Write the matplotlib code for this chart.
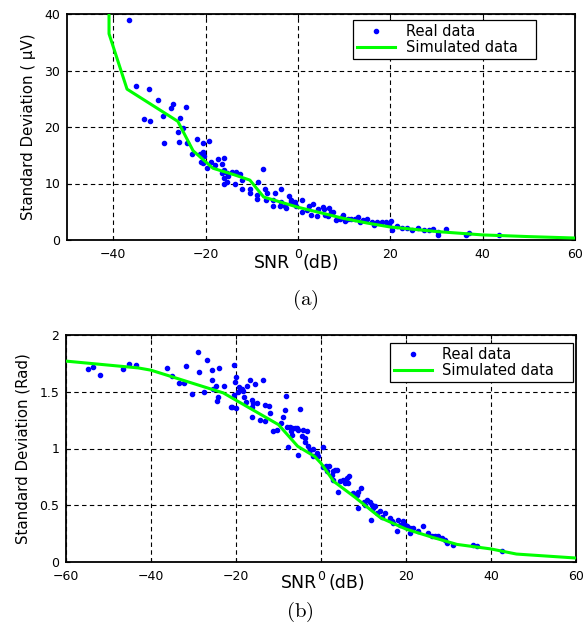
import matplotlib
matplotlib.use("Agg")
import matplotlib.pyplot as plt
import numpy as np

plt.rcParams['font.family'] = ['DejaVu Sans']

# ---------------- Panel (a) data ----------------
a_real_x = [-36.5, -35.1, -32.3, -30.2, -27.1, -27.5, -24.3, -33.4, -32.0, -29.2, -25.5, -24.8,
            -26.0, -28.9, -25.8, -24.1, -21.9, -19.3, -23.0, -21.2, -20.5, -20.6, -20.3, -20.9,
            -20.5, -19.6, -18.9, -18.0, -17.4, -15.9, -16.5, -16.1, -15.4, -16.5, -16.0, -15.2,
            -16.1, -15.4, -14.3, -13.3, -12.5, -12.2, -13.6, -12.0, -10.3, -10.4, -8.6, -7.6,
            -7.2, -6.8, -8.8, -8.9, -7.0, -5.0, -3.6, -5.3, -5.3, -3.9, -2.8, -1.9, -2.6, -1.4,
            -1.0, -3.6, -0.4,
            -1.4, -0.6, 0.9, 0.9, 2.0, 2.3, 3.3, 2.8, 4.1, 4.3, 5.4, 5.6, 5.9, 6.8, 7.1, 7.6,
            6.5, 8.3, 9.1, 9.5, 9.8, 10.2, 10.9, 11.6, 12.4, 13.1, 13.5, 14.2, 15.0, 16.0, 16.4,
            17.1, 17.9, 18.2, 19.0, 19.7, 20.1, 20.4, 21.5, 22.6, 23.7, 24.7, 26.0, 27.3, 28.4,
            29.2, 30.3, 30.3, 32.1, 36.5, 37.1, 43.6]
a_real_y = [38.9, 27.3, 26.7, 24.7, 24.1, 23.3, 23.6, 21.5, 21.1, 21.9, 21.6, 19.8,
            19.1, 17.2, 17.4, 17.1, 17.9, 17.6, 15.2, 15.3, 15.6, 17.1, 14.9, 13.8,
            13.6, 12.8, 13.8, 13.3, 14.3, 14.5, 13.5, 12.4, 11.9, 11.8, 10.9, 11.4,
            10.0, 10.3, 12.1, 12.0, 11.6, 10.6, 10.0, 9.0, 9.0, 8.4, 10.2, 12.6,
            9.0, 8.4, 8.0, 7.2, 7.1, 8.4, 9.0, 7.1, 6.1, 6.1, 6.0, 7.8, 5.6, 6.8,
            6.5, 6.8, 6.1,
            7.1, 6.8, 7.1, 5.0, 5.3, 6.1, 6.3, 4.4, 4.2, 5.4, 5.9, 5.4, 4.4, 5.6, 4.9, 5.0,
            4.2, 3.5, 3.8, 4.1, 4.4, 3.4, 3.7, 3.8, 3.8, 4.1, 3.2, 3.5, 3.7, 3.1, 2.7,
            3.2, 3.0, 3.2, 3.1, 2.8, 3.4, 1.8, 2.4, 2.1, 2.2, 1.8, 2.1, 1.8, 1.8,
            1.9, 0.8, 1.5, 1.9, 0.8, 1.3, 0.9]
a_sim_x = [-40.9, -40.9, -37.0, -26.0, -22.7, -18.4, -14.0, -10.4, -7.4, 0.0, 5.0, 10.0,
           15.0, 20.0, 30.0, 40.0, 50.0, 60.0]
a_sim_y = [42.0, 36.5, 26.7, 21.0, 15.8, 12.7, 11.6, 10.6, 7.6, 5.8, 4.8, 3.8,
           3.0, 2.3, 1.5, 0.9, 0.6, 0.35]

# ---------------- Panel (b) data ----------------
b_real_x = [-54.9, -53.6, -52.0, -46.5, -45.2, -43.6, -36.3, -35.0, -33.4, -32.2, -31.8, -30.4,
            -29.0, -28.7, -27.5, -26.9, -25.7, -25.7, -25.5, -24.6, -24.4, -24.2, -23.9, -22.8,
            -21.2, -20.9, -20.4, -20.3, -20.1, -20.4, -20.1, -19.6, -19.3, -18.7, -18.3, -18.1,
            -17.7, -17.5, -16.6, -16.3, -16.2, -15.9, -16.3, -15.5, -15.0, -14.4, -13.6, -13.2,
            -13.2, -12.2, -12.0, -11.2, -10.4, -9.3, -8.9, -8.5, -8.1, -8.2, -7.7, -7.3, -7.1,
            -6.8, -6.1, -5.3, -5.3,
            -4.9, -6.9, -5.7, -4.2, -3.4, -4.5, -3.8, -3.8, -3.0, -2.6, -1.8, -1.8, -1.0, -0.6,
            0.4, 0.5, 1.2, 1.9, 1.5, 2.5, 2.9, 3.3, 3.7, 2.9, 4.5, 4.1, 5.2, 5.6, 6.0, 6.7, 6.4,
            7.6, 8.4, 8.7, 9.3, 8.7, 10.0, 10.4, 10.8, 11.5, 11.9, 12.3, 11.8, 12.7, 13.1, 13.9,
            14.3, 15.1, 16.2, 16.6, 17.0, 17.8, 18.2, 18.6, 19.4, 19.8, 20.2, 21.0, 21.7, 21.0,
            22.9, 24.1, 25.2, 26.0, 26.8, 27.6, 28.4, 29.2, 29.6, 31.1, 35.8, 36.6, 42.5]
b_real_y = [1.70, 1.72, 1.65, 1.70, 1.745, 1.737, 1.713, 1.643, 1.576, 1.576, 1.73, 1.48,
            1.85, 1.67, 1.50, 1.78, 1.60, 1.69, 1.52, 1.55, 1.42, 1.45, 1.71, 1.55,
            1.37, 1.365, 1.737, 1.59, 1.63, 1.47, 1.355, 1.50, 1.54, 1.52, 1.51, 1.45,
            1.41, 1.55, 1.60, 1.43, 1.365, 1.405, 1.28, 1.57, 1.405, 1.25, 1.60, 1.24,
            1.385, 1.375, 1.31, 1.15, 1.165, 1.224, 1.28, 1.34, 1.19, 1.46, 1.01, 1.19, 1.15,
            1.12, 1.18, 0.944, 1.165,
            1.347, 1.18, 1.18, 1.165, 1.15, 1.106, 1.09, 1.053, 1.018, 0.989, 1.0, 0.93, 0.96, 0.93,
            1.01, 0.84, 0.848, 0.848, 0.798, 0.768, 0.798, 0.812, 0.812, 0.724, 0.71, 0.62, 0.724,
            0.695, 0.74, 0.754, 0.695,
            0.607, 0.592, 0.62, 0.65, 0.475, 0.533, 0.504, 0.548, 0.533, 0.504, 0.475, 0.366, 0.49,
            0.43, 0.445,
            0.40, 0.43, 0.387, 0.357, 0.343, 0.269, 0.372, 0.328, 0.357, 0.328, 0.313, 0.30, 0.30,
            0.255,
            0.269, 0.313, 0.255, 0.225, 0.231, 0.225, 0.211, 0.196, 0.167, 0.152, 0.152, 0.137, 0.093]
b_sim_x = [-60, -43, -40, -23, -10, -5.5, -1.5, 0, 3, 8, 14, 20, 26, 32, 40, 46, 52, 60]
b_sim_y = [1.77, 1.71, 1.69, 1.49, 1.21, 1.02, 0.93, 0.87, 0.71, 0.57, 0.39, 0.29, 0.22,
           0.155, 0.115, 0.07, 0.055, 0.035]

W, H = 585, 623
fig = plt.figure(figsize=(W / 100, H / 100), dpi=100)


def px_axes(l, t, r, b):
    return fig.add_axes([l / W, 1 - b / H, (r - l) / W, (b - t) / H])


def style(ax):
    for s in ax.spines.values():
        s.set_linewidth(1.3)
        s.set_color('black')
    ax.grid(True, color='black', linestyle=(0, (4, 3)), linewidth=0.8)
    ax.set_axisbelow(True)
    ax.tick_params(direction='in', length=3, width=0.8, top=True, right=True,
                   labelsize=9, colors='black')
    ax.tick_params(axis='x', pad=6)
    ax.tick_params(axis='y', pad=5)


def add_legend(ax, l, t, r, ax_l, ax_t, ax_r, ax_b):
    aw = ax_r - ax_l
    ah = ax_b - ax_t
    x0 = (l - ax_l) / aw
    w = (r - l) / aw
    ytop = (ax_b - t) / ah
    leg = ax.legend(loc='upper left', bbox_to_anchor=(x0, ytop - 0.3, w, 0.3), mode='expand',
                    borderaxespad=0, fontsize=10.5, numpoints=1, fancybox=False,
                    edgecolor='black', framealpha=1, labelspacing=0.1, borderpad=0.25,
                    handlelength=2.6, handletextpad=0.75)
    leg.get_frame().set_linewidth(0.9)
    return leg


# Panel (a)
ax1 = px_axes(67, 14, 575, 240)
style(ax1)
ax1.plot(a_real_x, a_real_y, linestyle='none', marker='o', ms=3.0, color=(0, 0, 1),
         mec=(0, 0, 1), label='Real data', zorder=3)
ax1.plot(a_sim_x, a_sim_y, color=(0, 1, 0), lw=2.2, label='Simulated data', zorder=4)
ax1.set_xlim(-50, 60)
ax1.set_ylim(0, 40)
ax1.set_xticks([-40, -20, 0, 20, 40, 60])
ax1.set_yticks([0, 10, 20, 30, 40])
ax1.set_ylabel('Standard Deviation ( \u03bcV)', fontsize=10.8, labelpad=6)
add_legend(ax1, 353, 20, 536, 67, 14, 575, 240)

# Panel (b)
ax2 = px_axes(66, 335, 576, 562)
style(ax2)
ax2.plot(b_real_x, b_real_y, linestyle='none', marker='o', ms=3.0, color=(0, 0, 1),
         mec=(0, 0, 1), label='Real data', zorder=3)
ax2.plot(b_sim_x, b_sim_y, color=(0, 1, 0), lw=2.2, label='Simulated data', zorder=4)
ax2.set_xlim(-60, 60)
ax2.set_ylim(0, 2)
ax2.set_xticks([-60, -40, -20, 0, 20, 40, 60])
ax2.set_yticks([0, 0.5, 1, 1.5, 2])
ax2.set_yticklabels(['0', '0.5', '1', '1.5', '2'])
ax2.set_ylabel('Standard Deviation (Rad)', fontsize=10.8, labelpad=6)
add_legend(ax2, 390, 343, 573, 66, 335, 576, 562)

# x labels: "SNR" and "(dB)" sit on either side of the "0" tick label
fig.text(290 / W, 1 - 268 / H, 'SNR', ha='right', va='baseline', fontsize=12.5)
fig.text(303 / W, 1 - 268 / H, '(dB)', ha='left', va='baseline', fontsize=12.5)
fig.text(317 / W, 1 - 588 / H, 'SNR', ha='right', va='baseline', fontsize=12.5)
fig.text(329 / W, 1 - 588 / H, '(dB)', ha='left', va='baseline', fontsize=12.5)

# captions
fig.text(305 / W, 1 - 300 / H, r'$\mathrm{(a)}$', ha='center', va='center', fontsize=15,
         math_fontfamily='cm')
fig.text(300 / W, 1 - 612 / H, r'$\mathrm{(b)}$', ha='center', va='center', fontsize=15,
         math_fontfamily='cm')

fig.savefig('out.png', dpi=100)
